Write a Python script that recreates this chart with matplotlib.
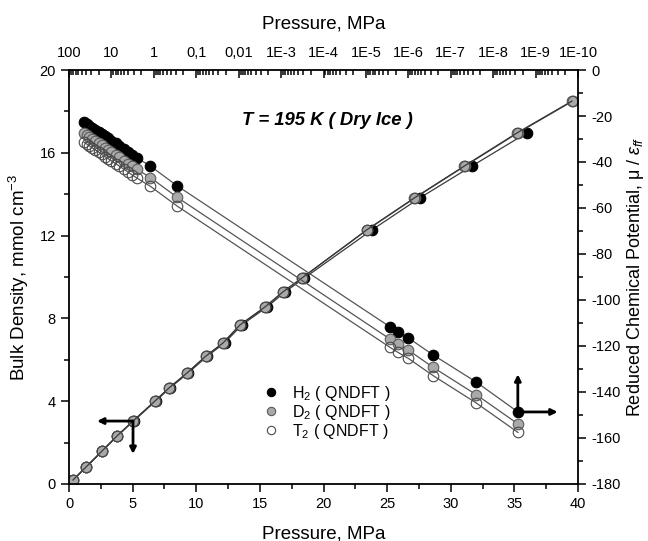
import matplotlib
matplotlib.use("Agg")
import matplotlib.pyplot as plt
from matplotlib.lines import Line2D
from matplotlib.ticker import FixedLocator, LogLocator, MultipleLocator, NullFormatter

plt.rcParams["font.family"] = ["Liberation Sans", "DejaVu Sans"]
plt.rcParams["mathtext.fontset"] = "custom"
plt.rcParams["mathtext.rm"] = "Liberation Sans"
plt.rcParams["mathtext.it"] = "Liberation Sans:italic"
plt.rcParams["mathtext.bf"] = "Liberation Sans:bold"
plt.rcParams["axes.unicode_minus"] = False

# bulk density vs pressure (bottom / left axes)
rho_p_H2 = [0.31, 1.35, 2.61, 3.80, 5.07, 6.82, 7.93, 9.36, 10.87, 12.22, 13.57, 15.56, 16.98, 18.49, 23.80, 27.57, 31.66, 35.98]
rho_H2 = [0.19, 0.82, 1.59, 2.32, 3.04, 4.01, 4.64, 5.36, 6.18, 6.81, 7.68, 8.55, 9.28, 9.95, 12.27, 13.82, 15.36, 16.96]
rho_p_D2 = [0.31, 1.34, 2.59, 3.77, 5.03, 6.76, 7.86, 9.27, 10.76, 12.10, 13.43, 15.40, 16.81, 18.30, 23.41, 27.18, 31.11, 35.27, 39.59]
rho_D2 = [0.19, 0.82, 1.59, 2.32, 3.04, 4.01, 4.64, 5.36, 6.18, 6.81, 7.68, 8.55, 9.28, 9.95, 12.27, 13.82, 15.36, 16.96, 18.50]
rho_p_T2 = [0.31, 1.34, 2.59, 3.77, 5.03, 6.76, 7.86, 9.27, 10.76, 12.10, 13.43, 15.40, 16.81, 18.30, 23.38, 27.14, 31.06, 35.20, 39.52]
rho_T2 = [0.19, 0.82, 1.59, 2.32, 3.04, 4.01, 4.64, 5.36, 6.18, 6.81, 7.68, 8.55, 9.28, 9.95, 12.27, 13.82, 15.36, 16.96, 18.50]

# reduced chemical potential vs log pressure (top / right axes)
mu_p = [44, 38, 33, 28, 24, 20, 17, 14, 12, 10, 8, 6.5, 5, 4, 3.2, 2.5, 1.2, 0.28,
        2.7e-6, 1.75e-6, 1.0e-6, 2.6e-7, 2.5e-8, 2.6e-9]
mu_H2 = [-22.6, -23.4, -24.2, -25.1, -25.9, -26.9, -27.8, -28.9, -29.7, -30.7, -31.9, -33.0,
         -34.4, -35.7, -36.9, -38.2, -41.8, -50.4, -111.7, -113.9, -116.5, -123.9, -135.7, -148.7]
mu_D2 = [-27.6, -28.4, -29.2, -30.1, -30.9, -31.9, -32.8, -33.9, -34.7, -35.7, -36.9, -38.0,
         -39.4, -40.7, -41.9, -43.2, -46.8, -55.4, -117.0, -119.2, -121.8, -129.3, -141.2, -153.9]
mu_T2 = [-31.4, -32.2, -33.0, -33.9, -34.7, -35.7, -36.6, -37.7, -38.5, -39.5, -40.7, -41.8,
         -43.2, -44.5, -45.7, -47.0, -50.6, -59.2, -120.6, -122.8, -125.4, -132.9, -144.8, -157.6]

top_decades = [1e2, 1e1, 1e0, 1e-1, 1e-2, 1e-3, 1e-4, 1e-5, 1e-6, 1e-7, 1e-8, 1e-9, 1e-10]
top_labels = ["100", "10", "1", "0,1", "0,01", "1E-3", "1E-4", "1E-5", "1E-6",
              "1E-7", "1E-8", "1E-9", "1E-10"]

styles = {
    "H2": dict(mfc="black", mec="black", label="H$_2$ ( QNDFT )"),
    "D2": dict(mfc="#a9a9a9", mec="#5a5a5a", label="D$_2$ ( QNDFT )"),
    "T2": dict(mfc="none", mec="#4a4a4a", label="T$_2$ ( QNDFT )"),
}

fig = plt.figure(figsize=(6.48, 5.41), dpi=100)
rect = [0.1065, 0.1054, 0.7855, 0.7652]
ax = fig.add_axes(rect)
ax2 = fig.add_axes(rect, frameon=False)
ax2.patch.set_visible(False)

mk = dict(marker="o", ms=7.6, mew=0.8)

for key, px, py in [("H2", rho_p_H2, rho_H2), ("D2", rho_p_D2, rho_D2), ("T2", rho_p_T2, rho_T2)]:
    st = styles[key]
    ax.plot(px, py, "-", color="#3a3a3a", lw=0.9, mfc=st["mfc"], mec=st["mec"], **mk)

for key, py in [("H2", mu_H2), ("D2", mu_D2), ("T2", mu_T2)]:
    st = styles[key]
    ax2.plot(mu_p, py, "-", color="#555555", lw=0.9, mfc=st["mfc"], mec=st["mec"], **mk)

# bottom / left axes
ax.set_xlim(0, 40)
ax.set_ylim(0, 20)
ax.xaxis.set_major_locator(MultipleLocator(5))
ax.xaxis.set_minor_locator(MultipleLocator(2.5))
ax.yaxis.set_major_locator(MultipleLocator(4))
ax.yaxis.set_minor_locator(MultipleLocator(2))
ax.tick_params(which="both", direction="out", top=False, right=False, labelsize=10.5, width=1.1)
ax.tick_params(which="major", length=6)
ax.tick_params(which="minor", length=3.5)
ax.set_xlabel("Pressure, MPa", fontsize=13.5, labelpad=10)
ax.set_ylabel("Bulk Density, mmol cm$^{-3}$", fontsize=13.5, labelpad=6)
for s in ax.spines.values():
    s.set_linewidth(1.3)

# top / right axes
ax2.set_xscale("log")
ax2.set_xlim(1e2, 1e-10)
ax2.set_ylim(-180, 0)
ax2.xaxis.set_ticks_position("top")
ax2.xaxis.set_label_position("top")
ax2.yaxis.set_ticks_position("right")
ax2.yaxis.set_label_position("right")
ax2.xaxis.set_major_locator(FixedLocator(top_decades))
ax2.set_xticklabels(top_labels)
ax2.xaxis.set_minor_locator(LogLocator(base=10, subs=range(2, 10), numticks=30))
ax2.xaxis.set_minor_formatter(NullFormatter())
ax2.yaxis.set_major_locator(MultipleLocator(20))
ax2.yaxis.set_minor_locator(MultipleLocator(10))
ax2.tick_params(axis="x", which="both", direction="in", labelsize=10.5, width=1.1, pad=7)
ax2.tick_params(axis="y", which="both", direction="out", labelsize=10.5, width=1.1)
ax2.tick_params(which="major", length=6)
ax2.tick_params(which="minor", length=3.5)
ax2.set_xlabel("Pressure, MPa", fontsize=13.5, labelpad=13)
ax2.set_ylabel("Reduced Chemical Potential, \u03bc / $\\varepsilon_{ff}$", fontsize=13, labelpad=3)

ax.text(0.507, 0.877, "T = 195 K ( Dry Ice )", transform=ax.transAxes, ha="center", va="center",
        fontsize=13.3, fontweight="bold", fontstyle="italic")

# arrows pointing to the axes each curve belongs to
arrow = dict(arrowstyle="-|>", lw=2, color="black", mutation_scale=9, shrinkA=0, shrinkB=0)
ax.annotate("", xy=(2.2, 3.04), xytext=(5.03, 3.04), arrowprops=arrow)
ax.annotate("", xy=(5.03, 1.45), xytext=(5.03, 3.04), arrowprops=arrow)
ax.annotate("", xy=(35.27, 5.3), xytext=(35.27, 3.48), arrowprops=arrow)
ax.annotate("", xy=(38.4, 3.48), xytext=(35.27, 3.48), arrowprops=arrow)

handles = [Line2D([], [], ls="none", marker="o", ms=6, mew=0.8, mfc=styles[k]["mfc"],
                  mec=styles[k]["mec"], label=styles[k]["label"]) for k in ("H2", "D2", "T2")]
ax2.legend(handles=handles, loc="upper left", bbox_to_anchor=(0.365, 0.262), frameon=False,
           fontsize=11.5, labelspacing=0.0, handlelength=1.0, handletextpad=0.8, borderpad=0)

fig.savefig("out.png", dpi=100)
